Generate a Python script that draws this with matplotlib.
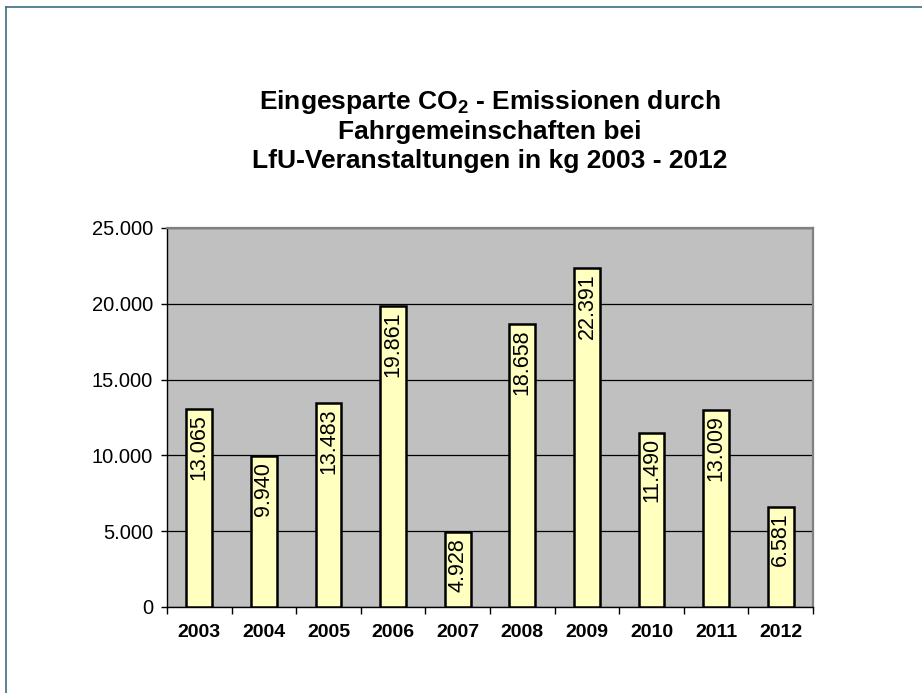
import matplotlib
matplotlib.use("Agg")
import matplotlib.pyplot as plt
from matplotlib.lines import Line2D
from matplotlib.ticker import FuncFormatter, FixedLocator

plt.rcParams['font.family'] = ['Liberation Sans', 'DejaVu Sans']
plt.rcParams['mathtext.fontset'] = 'custom'
plt.rcParams['mathtext.rm'] = 'Liberation Sans'
plt.rcParams['mathtext.bf'] = 'Liberation Sans:bold'

# Daten
years = ['2003', '2004', '2005', '2006', '2007', '2008', '2009', '2010', '2011', '2012']
savings_kg = [13065, 9940, 13483, 19861, 4928, 18658, 22391, 11490, 13009, 6581]
y_ticks = [0, 5000, 10000, 15000, 20000, 25000]
title_lines = [
    r'Eingesparte CO$_\mathbf{2}$ - Emissionen durch',
    'Fahrgemeinschaften bei',
    'LfU-Veranstaltungen in kg 2003 - 2012',
]


def de_fmt(v):
    # deutsches Tausendertrennzeichen
    return f"{int(v):,}".replace(",", ".")


fig = plt.figure(figsize=(9.22, 6.93), dpi=100)
ax = fig.add_axes([167 / 922, 86 / 693, 646 / 922, 379 / 693])

x = list(range(len(years)))
ax.set_facecolor('#c0c0c0')
ax.bar(x, savings_kg, width=0.4, color='#ffffc0', edgecolor='black', linewidth=1.8, zorder=3)

for xi, v in zip(x, savings_kg):
    ax.annotate(de_fmt(v), (xi, v), xytext=(0, -4), textcoords='offset points',
                rotation=90, ha='center', va='top', fontsize=15.5, zorder=4)

ax.set_xlim(-0.5, len(years) - 0.5)
ax.set_ylim(0, 25000)
ax.set_yticks(y_ticks)
ax.yaxis.set_major_formatter(FuncFormatter(lambda v, p: de_fmt(v)))
ax.yaxis.grid(True, color='black', linewidth=0.9, zorder=1)
ax.tick_params(axis='y', direction='out', length=4, width=1, pad=6, labelsize=14.5)

# Striche zwischen den Kategorien, Beschriftung mittig
ax.xaxis.set_major_locator(FixedLocator([i - 0.5 for i in range(len(years) + 1)]))
ax.xaxis.set_major_formatter(FuncFormatter(lambda v, p: ''))
ax.xaxis.set_minor_locator(FixedLocator(x))
ax.set_xticklabels(years, minor=True, fontweight='bold', fontsize=14)
ax.tick_params(axis='x', which='major', direction='out', length=5, width=1)
ax.tick_params(axis='x', which='minor', length=0, pad=12)

for side in ['left', 'bottom']:
    ax.spines[side].set_color('black')
    ax.spines[side].set_linewidth(1)
for side in ['top', 'right']:
    ax.spines[side].set_color('#808080')
    ax.spines[side].set_linewidth(1.6)

title_y = [102, 132, 161]
for line, ty in zip(title_lines, title_y):
    fig.text(490 / 922, 1 - ty / 693, line, ha='center', va='center',
             fontsize=19, fontweight='bold')

# Rahmen oben und links
fig.add_artist(Line2D([6 / 922, 1], [1 - 7 / 693, 1 - 7 / 693], color='#3c6e80', linewidth=1.2))
fig.add_artist(Line2D([6 / 922, 6 / 922], [0, 1 - 7 / 693], color='#3c6e80', linewidth=1.2))

fig.savefig('out.png', dpi=100)
